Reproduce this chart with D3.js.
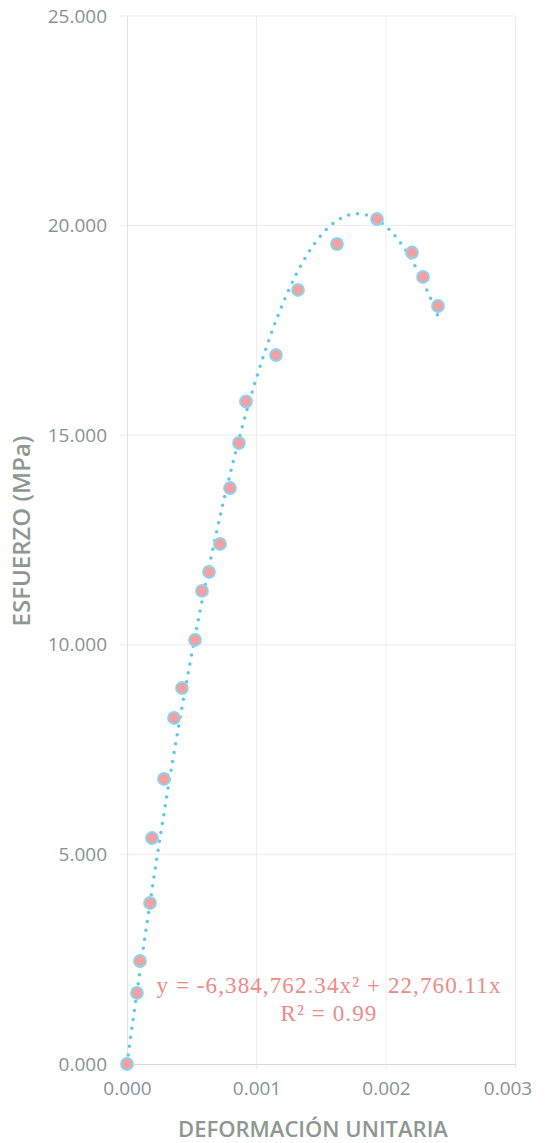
<!DOCTYPE html>
<html>
<head>
<meta charset="utf-8">
<script src="https://cdn.jsdelivr.net/npm/d3@7"></script>
<style>
  html, body { margin: 0; padding: 0; background: #ffffff; }
  svg { display: block; }
</style>
</head>
<body>
<svg id="chart" width="546" height="1143"></svg>
<script>
// ---- data (strain, stress in MPa) ----
const strain = [0, 0.0000772, 0.0001004, 0.0001776, 0.0001931, 0.0002857, 0.0003629, 0.0004247,
  0.0005251, 0.0005792, 0.0006332, 0.0007181, 0.0007954, 0.0008649, 0.0009189, 0.0011506,
  0.0013205, 0.0016216, 0.0019305, 0.0022008, 0.0022857, 0.0024015];
const stress = [0, 1.694, 2.457, 3.841, 5.391, 6.799, 8.254, 8.969, 10.115, 11.284, 11.737,
  12.405, 13.740, 14.814, 15.804, 16.913, 18.464, 19.561, 20.157, 19.358, 18.774, 18.082];
const xTicks = [0, 0.001, 0.002, 0.003];
const yTicks = [0, 5, 10, 15, 20, 25];
// trendline coefficients (polynomial order 2, intercept 0), as shown on chart
const trendCoef = [-6384762.34, 22760.11];
const eqLines = ["y = -6,384,762.34x\u00B2 + 22,760.11x", "R\u00B2 = 0.99"];
const xTitle = "DEFORMACIÓN UNITARIA";
const yTitle = "ESFUERZO (MPa)";

const svg = d3.select("#chart");
const x = d3.scaleLinear().domain([0, 0.003]).range([127, 515.5]);
const y = d3.scaleLinear().domain([0, 25]).range([1064, 16]);

const labelColor = "#869393";
const titleColor = "#8d9891";

// gridlines
svg.append("g").selectAll("line.h").data(yTicks.filter(d => d > 0)).join("line")
  .attr("x1", x(0) - 7).attr("x2", x(0.003))
  .attr("y1", d => y(d)).attr("y2", d => y(d))
  .attr("stroke", "#ececec").attr("stroke-width", 1);
svg.append("g").selectAll("line.v").data(xTicks.filter(d => d > 0)).join("line")
  .attr("x1", d => x(d)).attr("x2", d => x(d))
  .attr("y1", y(25)).attr("y2", y(0) + 5)
  .attr("stroke", "#eeeeee").attr("stroke-width", 1);

// y axis
const yAxis = d3.axisLeft(y).tickValues(yTicks).tickFormat(d3.format(".3f")).tickSize(0).tickPadding(20);
const gy = svg.append("g").attr("transform", `translate(${x(0)},0)`).call(yAxis);
gy.select(".domain").attr("stroke", "#e2e2e2");
gy.selectAll("text").attr("font-family", "'Open Sans', sans-serif").attr("font-size", 19)
  .attr("fill", labelColor);

// x axis
const xAxis = d3.axisBottom(x).tickValues(xTicks).tickFormat(d3.format(".3f")).tickSize(0).tickPadding(18);
const gx = svg.append("g").attr("transform", `translate(0,${y(0)})`).call(xAxis);
gx.select(".domain").attr("stroke", "#cfdcdf");
gx.selectAll("text").attr("font-family", "'Open Sans', sans-serif").attr("font-size", 19)
  .attr("fill", labelColor);
// last label pulled inside the chart edge, as in the reference
gx.selectAll(".tick text").filter(d => d === 0.003).attr("dx", -8);

// axis titles
svg.append("text").attr("x", 313).attr("y", 1137).attr("text-anchor", "middle")
  .attr("font-family", "'Open Sans', sans-serif").attr("font-weight", 600).attr("font-size", 22)
  .attr("fill", titleColor).text(xTitle);
svg.append("text").attr("transform", `translate(30,531) rotate(-90)`).attr("text-anchor", "middle")
  .attr("font-family", "'Open Sans', sans-serif").attr("font-weight", 600).attr("font-size", 24)
  .attr("fill", titleColor).text(yTitle);

// trendline
const xMax = d3.max(strain);
const tx = d3.range(0, 201).map(i => xMax * i / 200);
const line = d3.line().x(d => x(d)).y(d => y(trendCoef[0] * d * d + trendCoef[1] * d));
svg.append("path").datum(tx).attr("d", line).attr("fill", "none")
  .attr("stroke", "#5cc8ec").attr("stroke-width", 3.5)
  .attr("stroke-linecap", "round").attr("stroke-dasharray", "0 9");

// markers
svg.append("g").selectAll("circle").data(strain).join("circle")
  .attr("cx", d => x(d)).attr("cy", (d, i) => y(stress[i])).attr("r", 6)
  .attr("fill", "#f2a0a2").attr("stroke", "#8ad6ef").attr("stroke-width", 1.8);

// equation
svg.append("g").selectAll("text").data(eqLines).join("text")
  .attr("x", 329).attr("y", (d, i) => 993 + i * 28).attr("text-anchor", "middle")
  .attr("font-family", "'Liberation Serif', 'Times New Roman', serif").attr("font-size", 23)
  .attr("letter-spacing", 1.1)
  .attr("fill", "#ee8a88").text(d => d);
</script>
</body>
</html>
